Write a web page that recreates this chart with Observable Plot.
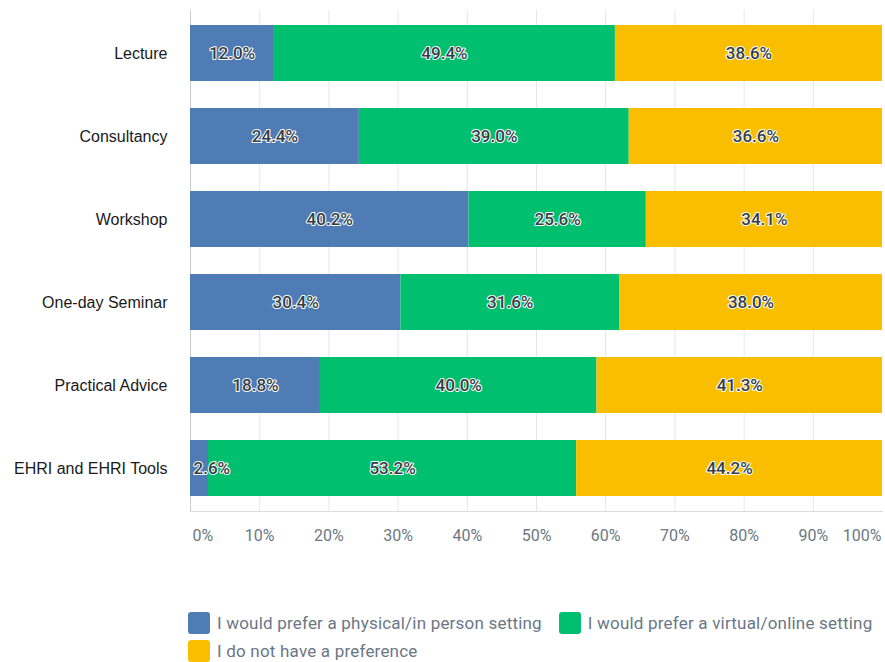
<!DOCTYPE html>
<html>
<head>
<meta charset="utf-8">
<script src="https://cdn.jsdelivr.net/npm/d3@7"></script>
<script src="https://cdn.jsdelivr.net/npm/@observablehq/plot@0.6"></script>
<style>
  html, body { margin: 0; padding: 0; background: #fff; }
  #chart svg { display: block; }
  .legend { margin-left: 188px; margin-top: 52px; font-family: Roboto, "Noto Sans", sans-serif; font-size: 17px; letter-spacing: 0.2px; color: #6b7785; white-space: nowrap; width: max-content; }
  .legend .row { display: flex; align-items: center; height: 22px; margin-bottom: 6px; }
  .legend .item { display: flex; align-items: center; margin-right: 17px; }
  .legend .sw { width: 22px; height: 22px; border-radius: 3px; margin-right: 7px; flex: none; }
</style>
</head>
<body>
<div id="chart"></div>
<script>
const categories = ["Lecture", "Consultancy", "Workshop", "One-day Seminar", "Practical Advice", "EHRI and EHRI Tools"];
const seriesNames = [
  "I would prefer a physical/in person setting",
  "I would prefer a virtual/online setting",
  "I do not have a preference"
];
const physical = [12.0, 24.4, 40.2, 30.4, 18.8, 2.6];
const virtual  = [49.4, 39.0, 25.6, 31.6, 40.0, 53.2];
const noPref   = [38.6, 36.6, 34.1, 38.0, 41.3, 44.2];
const colors = ["#507cb6", "#00bf6f", "#f9be00"];
const xTicks = [0, 10, 20, 30, 40, 50, 60, 70, 80, 90, 100];

const seriesValues = [physical, virtual, noPref];
const data = [];
categories.forEach((cat, i) => {
  seriesNames.forEach((s, j) => data.push({cat, series: s, value: seriesValues[j][i]}));
});

const fmt = v => v.toFixed(1) + "%";
const stackOpts = {x: "value", y: "cat", z: "series", order: seriesNames, offset: "normalize"};
const labelStyle = {fill: "#333e48", stroke: "white", strokeWidth: 2, paintOrder: "stroke", fontSize: 17, fontWeight: 500, fontFamily: "Roboto, sans-serif"};
const tickStyle = {tickSize: 0, tickPadding: 18, fill: "#6b787f", fillOpacity: 1, fontSize: 16, fontFamily: "Roboto, sans-serif", tickFormat: d => d + "%", label: null};
const innerTicks = xTicks.slice(1, -1);

const chart = Plot.plot({
  width: 885,
  height: 560,
  marginLeft: 190,
  marginRight: 3,
  marginTop: 10,
  marginBottom: 49,
  x: {domain: [0, 100], percent: true, axis: null},
  y: {domain: categories, paddingInner: 0.327, paddingOuter: 0.174, axis: null},
  color: {domain: seriesNames, range: colors},
  marks: [
    Plot.gridX({ticks: innerTicks, stroke: "#e6e6e6", strokeOpacity: 1}),
    Plot.frame({anchor: "bottom", stroke: "#dcdcdc"}),
    Plot.ruleX([0], {stroke: "#cccccc"}),
    Plot.barX(data, Plot.stackX({...stackOpts, fill: "series"})),
    Plot.text(data, Plot.stackX({...stackOpts, text: d => d.value >= 5 ? fmt(d.value) : null, ...labelStyle})),
    Plot.text(data, Plot.stackX1({...stackOpts, text: d => d.value < 5 ? fmt(d.value) : null, textAnchor: "start", dx: 3, ...labelStyle})),
    Plot.axisY({tickSize: 0, tickPadding: 23, fontSize: 16, fill: "#1a1a1a", fontFamily: "'Liberation Sans', Arial, sans-serif", label: null}),
    Plot.axisX({...tickStyle, ticks: innerTicks}),
    Plot.axisX({...tickStyle, ticks: [0], textAnchor: "start", dx: 2}),
    Plot.axisX({...tickStyle, ticks: [100], textAnchor: "end", dx: -1})
  ]
});
document.getElementById("chart").appendChild(chart);

const legend = document.createElement("div");
legend.className = "legend";
const rows = [[0, 1], [2]];
rows.forEach(r => {
  const row = document.createElement("div");
  row.className = "row";
  r.forEach(j => {
    const item = document.createElement("div");
    item.className = "item";
    const sw = document.createElement("div");
    sw.className = "sw";
    sw.style.background = colors[j];
    const t = document.createElement("span");
    t.textContent = seriesNames[j];
    item.appendChild(sw);
    item.appendChild(t);
    row.appendChild(item);
  });
  legend.appendChild(row);
});
document.body.appendChild(legend);
</script>
</body>
</html>
